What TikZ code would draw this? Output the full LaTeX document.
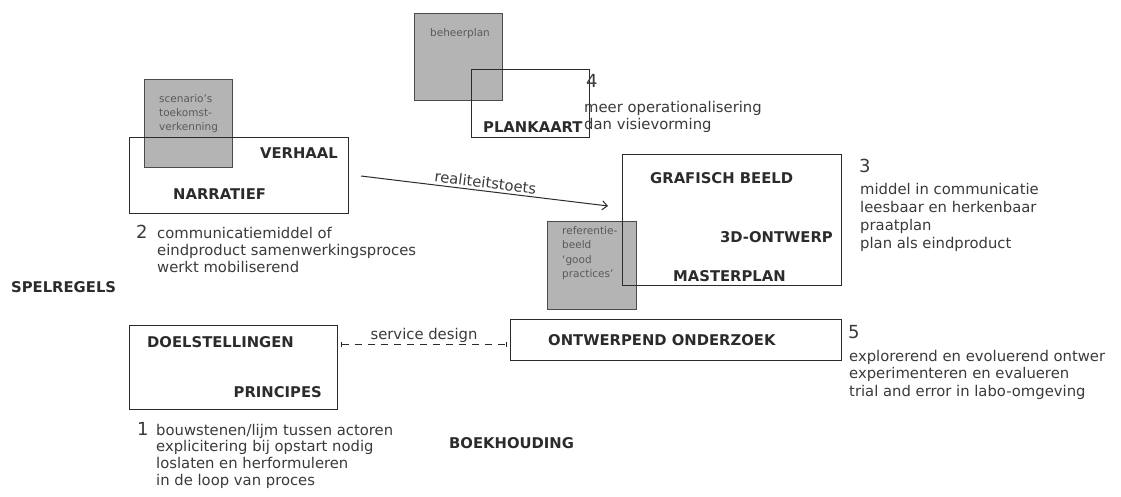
\documentclass[tikz,border=0pt]{standalone}
\usepackage{fontspec}
\setmainfont{DejaVu Sans}
\usetikzlibrary{arrows.meta}
\definecolor{ink}{HTML}{2B2B2B}
\definecolor{txt}{HTML}{3A3A3A}
\definecolor{boxgray}{HTML}{B4B4B4}
\definecolor{graytxt}{HTML}{5A5A5A}
\begin{document}
\begin{tikzpicture}[x=1pt,y=-1pt,
  graybox/.style={draw=ink!85, fill=boxgray, line width=1pt, inner sep=0pt, anchor=north west},
  wbox/.style={draw=ink, line width=1.1pt, inner sep=0pt, anchor=north west},
  lbl/.style={font=\bfseries\fontsize{14.8}{17}\selectfont, text=ink, inner sep=0pt},
  body/.style={font=\fontsize{14.8}{17.5}\selectfont, text=txt, inner sep=0pt, anchor=base west},
  num/.style={font=\fontsize{18}{20}\selectfont, text=txt, inner sep=0pt, anchor=base west},
  small/.style={font=\fontsize{10.5}{14}\selectfont, text=graytxt, inner sep=0pt, anchor=base west},
  conn/.style={draw=ink, line width=1pt}
]
\useasboundingbox (0,0) rectangle (1121,497);
% gray boxes
\node[graybox, minimum width=88pt, minimum height=88pt] (scen) at (144,79) {};
\node[graybox, minimum width=88pt, minimum height=87pt] (beh) at (414,13) {};
\node[graybox, minimum width=89pt, minimum height=88pt] (ref) at (547,221) {};
% white boxes
\node[wbox, minimum width=219pt, minimum height=76pt] (verhaal) at (129,137) {};
\node[wbox, minimum width=118pt, minimum height=68pt] (plan) at (471,69) {};
\node[wbox, minimum width=219pt, minimum height=131pt] (graf) at (622,154) {};
\node[wbox, minimum width=208pt, minimum height=84pt] (doel) at (129,325) {};
\node[wbox, minimum width=331pt, minimum height=41pt] (ontw) at (510,319) {};
% gray box texts
\node[small] (sc1) at (159,103) {scenario’s};
\node[small] (sc2) at (159,117) {toekomst-};
\node[small] (sc3) at (159,131) {verkenning};
\node[small] (bh1) at (430,37) {beheerplan};
\node[small] (rf1) at (562,234) {referentie-};
\node[small] (rf2) at (562,248.5) {beeld};
\node[small] (rf3) at (562,263) {‘good};
\node[small] (rf4) at (562,277.5) {practices’};
% bold labels
\node[lbl, anchor=base east] (lverhaal) at (338,159) {VERHAAL};
\node[lbl, anchor=base west] (lnarr) at (173,200) {NARRATIEF};
\node[lbl, anchor=base west] (lplan) at (483,133) {PLANKAART};
\node[lbl, anchor=base west] (lgraf) at (650,184) {GRAFISCH BEELD};
\node[lbl, anchor=base east] (l3d) at (833,242) {3D-ONTWERP};
\node[lbl, anchor=base west] (lmaster) at (673,281) {MASTERPLAN};
\node[lbl, anchor=base west] (ldoel) at (147,347) {DOELSTELLINGEN};
\node[lbl, anchor=base east] (lprin) at (322,397) {PRINCIPES};
\node[lbl, anchor=base west] (lontw) at (548,345) {ONTWERPEND ONDERZOEK};
\node[lbl, anchor=base west] (lspel) at (11,292) {SPELREGELS};
\node[lbl, anchor=base west] (lboek) at (449,448) {BOEKHOUDING};
% block 2
\node[num] (n2) at (136,238) {2};
\node[body] (t21) at (157,238) {communicatiemiddel of};
\node[body] (t22) at (157,255) {eindproduct samenwerkingsproces};
\node[body] (t23) at (157,272) {werkt mobiliserend};
% block 1
\node[num] (n1) at (137,435) {1};
\node[body] (t11) at (156,435) {bouwstenen/lijm tussen actoren};
\node[body] (t12) at (156,451.7) {explicitering bij opstart nodig};
\node[body] (t13) at (156,468.4) {loslaten en herformuleren};
\node[body] (t14) at (156,485) {in de loop van proces};
% block 3
\node[num] (n3) at (859,173) {3};
\node[body] (t31) at (860,194) {middel in communicatie};
\node[body] (t32) at (860,212) {leesbaar en herkenbaar};
\node[body] (t33) at (860,230) {praatplan};
\node[body] (t34) at (860,248) {plan als eindproduct};
% block 4
\node[num] (n4) at (586,88) {4};
\node[body] (t41) at (584,113) {meer operationalisering};
\node[body] (t42) at (584,130) {dan visievorming};
% block 5
\node[num] (n5) at (848,338) {5};
\node[body] (t51) at (849,361) {explorerend en evoluerend ontwer};
\node[body] (t52) at (849,378.5) {experimenteren en evalueren};
\node[body] (t53) at (849,396) {trial and error in labo-omgeving};
% connectors
\coordinate (arrS) at (361,176);
\coordinate (arrE) at (608,206);
\draw[conn, -{Straight Barb[length=5pt,width=9pt]}] (arrS) -- node[sloped, above, font=\fontsize{14.8}{17}\selectfont, text=txt, inner sep=2.5pt] (rt) {realiteitstoets} (arrE);
\coordinate (sdS) at (341,344.5);
\coordinate (sdE) at (507,344.5);
\draw[conn, dash pattern=on 7pt off 6pt, {Bar[width=5pt]}-{Bar[width=5pt]}] (sdS) -- node[above, font=\fontsize{14.8}{17}\selectfont, text=txt, inner sep=1.5pt] (sd) {service design} (sdE);
\end{tikzpicture}
\end{document}
